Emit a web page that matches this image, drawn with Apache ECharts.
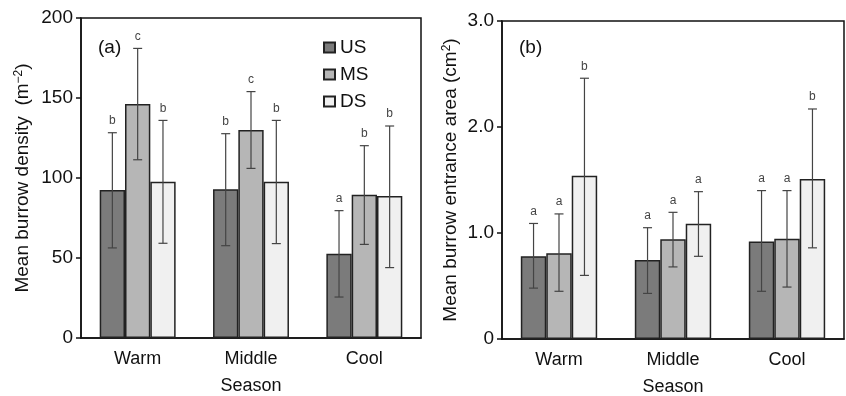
<!DOCTYPE html>
<html>
<head>
<meta charset="utf-8">
<script src="https://cdn.jsdelivr.net/npm/echarts@6/dist/echarts.min.js"></script>
<style>
  html, body { margin: 0; padding: 0; background: #fff; }
  #chart { width: 846px; height: 396px; }
</style>
</head>
<body>
<div id="chart"></div>
<script>
// season categories
const seasons = ['Warm', 'Middle', 'Cool'];
const sites = ['US', 'MS', 'DS'];

// (a) burrow density (m-2)
const densUS = [92.5, 93, 52.7];
const densUSLow = [56.3, 57.7, 25.6];
const densUSHigh = [128.3, 127.7, 79.6];
const densMS = [146.3, 130, 89.6];
const densMSLow = [111.4, 106, 58.5];
const densMSHigh = [181, 154, 120.2];
const densDS = [97.7, 97.7, 88.8];
const densDSLow = [59.2, 59, 44];
const densDSHigh = [136, 136, 132.5];
const densLetters = [['b', 'b', 'a'], ['c', 'c', 'b'], ['b', 'b', 'b']];

// (b) burrow entrance area (cm2)
const areaUS = [0.78, 0.745, 0.92];
const areaUSLow = [0.48, 0.43, 0.45];
const areaUSHigh = [1.09, 1.05, 1.40];
const areaMS = [0.81, 0.94, 0.946];
const areaMSLow = [0.45, 0.68, 0.49];
const areaMSHigh = [1.18, 1.195, 1.40];
const areaDS = [1.54, 1.088, 1.51];
const areaDSLow = [0.60, 0.78, 0.86];
const areaDSHigh = [2.46, 1.39, 2.17];
const areaLetters = [['a', 'a', 'a'], ['a', 'a', 'a'], ['b', 'a', 'b']];

const densTicks = [0, 50, 100, 150, 200];
const areaTicks = ['0', '1.0', '2.0', '3.0'];

const barColors = ['#7b7b7b', '#b6b6b6', '#f0f0f0'];
const FONT = '"Liberation Sans", Arial, sans-serif';
const GAP = 0.33;

function errData(lows, highs) {
  const out = [];
  lows.forEach((lo, s) => {
    lo.forEach((v, c) => out.push([s, c, v, highs[s][c]]));
  });
  return out;
}

function makeErrRender(letters) {
  return function (params, api) {
    const s = api.value(0), c = api.value(1);
    const lo = api.value(2), hi = api.value(3);
    const band = api.size([1, 0])[0];
    const bw = band * (1 - GAP) / 3;
    const x = api.coord([c, 0])[0] + (s - 1) * bw;
    const yLo = api.coord([c, lo])[1];
    const yHi = api.coord([c, hi])[1];
    const cap = 4.5;
    const st = { stroke: '#444', lineWidth: 1.2 };
    return {
      type: 'group',
      children: [
        { type: 'line', shape: { x1: x, y1: yLo, x2: x, y2: yHi }, style: st },
        { type: 'line', shape: { x1: x - cap, y1: yLo, x2: x + cap, y2: yLo }, style: st },
        { type: 'line', shape: { x1: x - cap, y1: yHi, x2: x + cap, y2: yHi }, style: st },
        {
          type: 'text',
          style: {
            text: letters[s][c], x: x, y: yHi - 6,
            align: 'center', verticalAlign: 'bottom',
            fill: '#444', font: '12px ' + FONT
          }
        }
      ]
    };
  };
}

const chart = echarts.init(document.getElementById('chart'));

const axisLine = { lineStyle: { color: '#111', width: 1.5 } };
const axisTick = { length: 5, lineStyle: { color: '#111', width: 1.5 } };
const labelStyle = { color: '#111', fontSize: 19, fontFamily: FONT };
const nameStyle = {
  color: '#111', fontSize: 19, fontFamily: FONT,
  rich: { sup: { fontSize: 12, verticalAlign: 'top', lineHeight: 12, padding: [0, 0, 9, 0] } }
};

function xAxis(gridIndex) {
  return {
    type: 'category', gridIndex: gridIndex, data: seasons,
    axisLine: axisLine,
    axisTick: { length: 6, lineStyle: { color: '#111', width: 1.5 } },
    axisLabel: { margin: 12, color: '#111', fontSize: 18, fontFamily: FONT },
    name: 'Season', nameLocation: 'middle', nameGap: 39,
    nameTextStyle: { color: '#111', fontSize: 18, fontFamily: FONT }
  };
}

function bars(gridIndex, values) {
  return values.map((vals, s) => ({
    name: sites[s], type: 'bar',
    xAxisIndex: gridIndex, yAxisIndex: gridIndex,
    data: vals,
    barGap: '0%', barCategoryGap: (GAP * 100) + '%',
    itemStyle: { color: barColors[s], borderColor: '#222', borderWidth: 1.5 }
  }));
}

const option = {
  animation: false,
  backgroundColor: '#fff',
  title: [
    { text: '(a)', left: 93, top: 33, textStyle: { fontSize: 19, fontWeight: 'normal', color: '#111', fontFamily: FONT } },
    { text: '(b)', left: 514, top: 33, textStyle: { fontSize: 19, fontWeight: 'normal', color: '#111', fontFamily: FONT } }
  ],
  legend: {
    orient: 'vertical', left: 318, top: 33,
    itemWidth: 11, itemHeight: 10, itemGap: 8,
    icon: 'rect',
    data: sites,
    textStyle: { color: '#111', fontSize: 19, fontFamily: FONT, lineHeight: 19 }
  },
  grid: [
    { left: 81, top: 18, width: 340, height: 320, show: true, borderColor: '#111', borderWidth: 1.5, containLabel: false, outerBoundsMode: 'none' },
    { left: 502, top: 21, width: 342, height: 318, show: true, borderColor: '#111', borderWidth: 1.5, containLabel: false, outerBoundsMode: 'none' }
  ],
  xAxis: [xAxis(0), xAxis(1)],
  yAxis: [
    {
      type: 'value', gridIndex: 0, min: 0, max: 200, interval: 50,
      splitLine: { show: false }, axisLine: Object.assign({ show: true }, axisLine), axisTick: Object.assign({ show: true }, axisTick),
      axisLabel: Object.assign({ margin: 8, formatter: v => densTicks.includes(v) ? String(v) : '' }, labelStyle),
      name: 'Mean burrow density  (m{sup|−2})', nameLocation: 'middle', nameGap: 49,
      nameTextStyle: nameStyle
    },
    {
      type: 'value', gridIndex: 1, min: 0, max: 3, interval: 1,
      splitLine: { show: false }, axisLine: Object.assign({ show: true }, axisLine), axisTick: Object.assign({ show: true }, axisTick),
      axisLabel: Object.assign({ margin: 8, formatter: v => areaTicks[Math.round(v)] }, labelStyle),
      name: 'Mean burrow entrance area (cm{sup|2})', nameLocation: 'middle', nameGap: 42,
      nameTextStyle: nameStyle
    }
  ],
  series: [
    ...bars(0, [densUS, densMS, densDS]),
    ...bars(1, [areaUS, areaMS, areaDS]),
    {
      type: 'custom', xAxisIndex: 0, yAxisIndex: 0, z: 10, clip: false,
      renderItem: makeErrRender(densLetters),
      data: errData([densUSLow, densMSLow, densDSLow], [densUSHigh, densMSHigh, densDSHigh])
    },
    {
      type: 'custom', xAxisIndex: 1, yAxisIndex: 1, z: 10, clip: false,
      renderItem: makeErrRender(areaLetters),
      data: errData([areaUSLow, areaMSLow, areaDSLow], [areaUSHigh, areaMSHigh, areaDSHigh])
    }
  ]
};

chart.setOption(option);
</script>
</body>
</html>
